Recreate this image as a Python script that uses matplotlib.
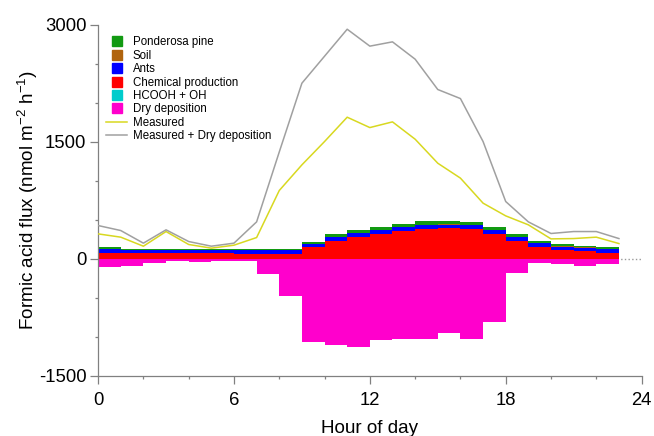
import matplotlib

matplotlib.use("Agg")
import matplotlib.pyplot as plt
import numpy as np
from matplotlib.lines import Line2D

plt.rcParams["font.family"] = ["Liberation Sans", "DejaVu Sans"]
plt.rcParams["mathtext.default"] = "regular"
plt.rcParams["axes.unicode_minus"] = False

# hourly bins 0..23 (bars), line points at hours 0..23
bin_edges = np.arange(0, 24)
line_hours = np.arange(0, 24)

chemical = [78, 72, 70, 70, 70, 70, 68, 68, 68, 150, 231, 278, 316, 363, 385, 397, 380, 320, 235, 158, 111, 103, 81]
ants = [50, 45, 45, 45, 45, 45, 45, 45, 45, 42, 47, 51, 52, 43, 51, 43, 52, 48, 47, 43, 47, 42, 43]
soil = [2, 1, 1, 1, 1, 1, 1, 1, 1, 2, 2, 2, 2, 2, 2, 2, 2, 2, 2, 2, 1, 1, 1]
pine = [18, 13, 13, 13, 13, 13, 13, 13, 13, 26, 34, 34, 34, 38, 43, 43, 34, 38, 34, 25, 30, 22, 21]
hcooh_oh = [-1, -1, -1, -1, -1, -1, -1, -1, -1, -2, -2, -2, -2, -2, -2, -2, -2, -2, -2, -1, -1, -1, -1]
dry_dep = [-110, -89, -50, -29, -42, -33, -25, -196, -481, -1066, -1100, -1122, -1041, -1028, -1032, -947, -1020, -802, -182, -50, -67, -89, -67]

measured = [320, 278, 162, 350, 184, 137, 175, 273, 876, 1205, 1504, 1816, 1683, 1756, 1534, 1226, 1035, 714, 551, 436, 256, 260, 278, 196]
measured_plus_dep = [427, 363, 201, 372, 222, 162, 201, 474, 1370, 2252, 2598, 2944, 2727, 2782, 2560, 2171, 2055, 1504, 735, 474, 325, 350, 350, 260]

colors = {
    "Ponderosa pine": "#129a12",
    "Soil": "#b0640e",
    "Ants": "#0000ff",
    "Chemical production": "#ff0000",
    "HCOOH + OH": "#00cccc",
    "Dry deposition": "#ff00cc",
}

fig = plt.figure(figsize=(6.54, 4.36), dpi=100)
ax = fig.add_axes([0.150, 0.138, 0.831, 0.805])

ax.axhline(0, color="#999999", ls=":", lw=1.0, zorder=0)

# positive stack
base = np.zeros(len(chemical))
for name, vals in [("Chemical production", chemical), ("Ants", ants), ("Soil", soil), ("Ponderosa pine", pine)]:
    top = base + np.array(vals)
    ax.stairs(top, bin_edges, baseline=base, fill=True, color=colors[name], lw=0, zorder=2)
    base = top

# negative stack
base = np.zeros(len(chemical))
for name, vals in [("HCOOH + OH", hcooh_oh), ("Dry deposition", dry_dep)]:
    bottom = base + np.array(vals)
    ax.stairs(bottom, bin_edges, baseline=base, fill=True, color=colors[name], lw=0, zorder=2)
    base = bottom

ax.plot(line_hours, measured, color="#d8d820", lw=1.1, zorder=3)
ax.plot(line_hours, measured_plus_dep, color="#a0a0a0", lw=1.1, zorder=3)

ax.set_xlim(0, 24)
ax.set_ylim(-1500, 3000)
ax.set_xticks([0, 6, 12, 18, 24])
ax.set_xticks(np.arange(0, 25, 2), minor=True)
ax.set_yticks([-1500, 0, 1500, 3000])
ax.set_yticks(np.arange(-1500, 3001, 500), minor=True)

for side in ["top", "right"]:
    ax.spines[side].set_visible(False)
for side in ["left", "bottom"]:
    ax.spines[side].set_color("#808080")
    ax.spines[side].set_linewidth(0.9)

ax.tick_params(which="major", direction="out", length=5.5, width=0.9, color="#808080", labelsize=13.3, pad=3)
ax.tick_params(axis="x", which="major", pad=6)
ax.tick_params(which="minor", direction="out", length=2.5, width=0.9, color="#808080")

ax.set_xlabel("Hour of day", fontsize=13.6, labelpad=8)
ax.set_ylabel(r"Formic acid flux (nmol m$^{-2}$ h$^{-1}$)", fontsize=13.6, labelpad=-1)

handles = []
labels = []
for name in ["Ponderosa pine", "Soil", "Ants", "Chemical production", "HCOOH + OH", "Dry deposition"]:
    handles.append(Line2D([], [], marker="s", ls="none", markersize=7, color=colors[name]))
    labels.append(name)
handles.append(Line2D([], [], color="#d8d820", lw=1.1))
labels.append("Measured")
handles.append(Line2D([], [], color="#a0a0a0", lw=1.1))
labels.append("Measured + Dry deposition")

ax.legend(handles, labels, loc="upper left", bbox_to_anchor=(0.0, 0.99), frameon=False,
          fontsize=8.3, handlelength=1.8, handletextpad=0.5, labelspacing=0.12, borderaxespad=0.3)

fig.savefig("out.png", dpi=100)
